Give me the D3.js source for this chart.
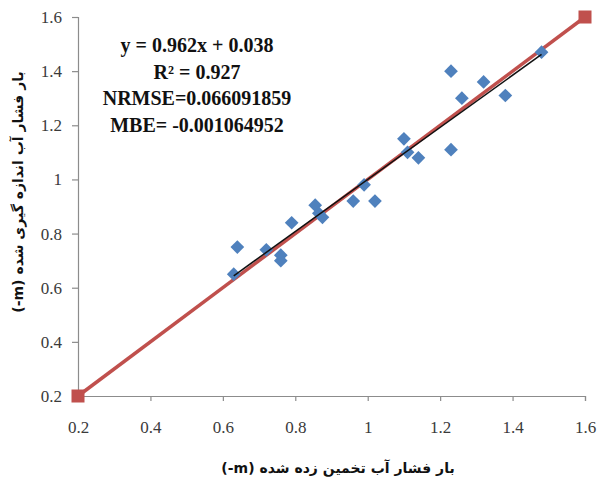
<!DOCTYPE html>
<html>
<head>
<meta charset="utf-8">
<script src="https://cdn.jsdelivr.net/npm/d3@7"></script>
<style>
  html, body { margin: 0; padding: 0; background: #ffffff; }
  svg { display: block; }
</style>
</head>
<body>
<div id="chart"></div>
<script>
// ---- data ----
const estimated = [0.63, 0.64, 0.72, 0.76, 0.76, 0.79, 0.855, 0.865, 0.875, 0.96, 0.99, 1.02, 1.10, 1.11, 1.14, 1.23, 1.23, 1.26, 1.32, 1.38, 1.48];
const measured  = [0.65, 0.75, 0.74, 0.72, 0.70, 0.84, 0.905, 0.875, 0.86, 0.92, 0.98, 0.92, 1.15, 1.10, 1.08, 1.11, 1.40, 1.30, 1.36, 1.31, 1.47];
const oneToOneX = [0.2, 1.6];
const oneToOneY = [0.2, 1.6];
const trendSlope = 0.962;
const trendIntercept = 0.038;
const xTicks = [0.2, 0.4, 0.6, 0.8, 1, 1.2, 1.4, 1.6];
const yTicks = [0.2, 0.4, 0.6, 0.8, 1, 1.2, 1.4, 1.6];
const statLines = ["y = 0.962x + 0.038", "R² = 0.927", "NRMSE=0.066091859", "MBE= -0.001064952"];
const xTitle = "بار فشار آب تخمین زده شده (m-)";
const yTitle = "بار فشار آب اندازه گیری شده (m-)";

// ---- layout ----
const W = 598, H = 484;
const mLeft = 78, mRight = 585, mTop = 17, mBottom = 396;

const svg = d3.select("#chart").append("svg").attr("width", W).attr("height", H);

const x = d3.scaleLinear().domain([0.2, 1.6]).range([mLeft, mRight]);
const y = d3.scaleLinear().domain([0.2, 1.6]).range([mBottom, mTop]);

const axisColor = "#8c8c8c";
const serif = "'Liberation Serif', 'Times New Roman', serif";

// x axis
const gx = svg.append("g").attr("transform", `translate(0,${mBottom})`)
  .call(d3.axisBottom(x).tickValues(xTicks).tickSize(5).tickPadding(20)
    .tickFormat(d => d3.format("")(d)));
gx.select(".domain").attr("stroke", axisColor).attr("stroke-width", 1.2);
gx.selectAll(".tick line").attr("stroke", axisColor).attr("stroke-width", 1.2);
gx.selectAll(".tick text").attr("font-family", serif).attr("font-size", 17).attr("fill", "#3a3a3a");

// y axis
const gy = svg.append("g").attr("transform", `translate(${mLeft},0)`)
  .call(d3.axisLeft(y).tickValues(yTicks).tickSize(6).tickPadding(10)
    .tickFormat(d => d3.format("")(d)));
gy.select(".domain").attr("stroke", axisColor).attr("stroke-width", 1.2);
gy.selectAll(".tick line").attr("stroke", axisColor).attr("stroke-width", 1.2);
gy.selectAll(".tick text").attr("font-family", serif).attr("font-size", 17).attr("fill", "#3a3a3a");

// 1:1 line
const red = "#C0504D";
svg.append("line")
  .attr("x1", x(oneToOneX[0])).attr("y1", y(oneToOneY[0]))
  .attr("x2", x(oneToOneX[1])).attr("y2", y(oneToOneY[1]))
  .attr("stroke", red).attr("stroke-width", 3.5);

// points
const blue = "#4F81BD";
const diamond = d3.symbol().type(d3.symbolDiamond2).size(120);
svg.append("g").selectAll("path").data(estimated.map((v, i) => [v, measured[i]]))
  .join("path")
  .attr("d", diamond)
  .attr("transform", d => `translate(${x(d[0])},${y(d[1])})`)
  .attr("fill", blue);

// trendline
const tMin = d3.min(estimated), tMax = d3.max(estimated);
svg.append("line")
  .attr("x1", x(tMin)).attr("y1", y(trendSlope * tMin + trendIntercept))
  .attr("x2", x(tMax)).attr("y2", y(trendSlope * tMax + trendIntercept))
  .attr("stroke", "#111").attr("stroke-width", 1.5);

// squares at ends of 1:1 line
const sq = 13;
svg.append("g").selectAll("rect").data(oneToOneX.map((v, i) => [v, oneToOneY[i]]))
  .join("rect")
  .attr("x", d => x(d[0]) - sq / 2).attr("y", d => y(d[1]) - sq / 2)
  .attr("width", sq).attr("height", sq)
  .attr("fill", red);

// stats annotation
svg.append("g").selectAll("text").data(statLines).join("text")
  .attr("x", 197).attr("y", (d, i) => 52 + i * 26.5)
  .attr("text-anchor", "middle")
  .attr("font-family", serif).attr("font-weight", "bold").attr("font-size", 20)
  .attr("fill", "#111")
  .text(d => d);

// axis titles
svg.append("text")
  .attr("x", 338).attr("y", 473)
  .attr("text-anchor", "middle").attr("direction", "rtl")
  .attr("font-family", "'DejaVu Sans', sans-serif").attr("font-weight", "bold").attr("font-size", 14)
  .attr("fill", "#111")
  .text(xTitle);

svg.append("text")
  .attr("transform", `translate(23,192) rotate(-90)`)
  .attr("text-anchor", "middle").attr("direction", "rtl")
  .attr("font-family", "'DejaVu Sans', sans-serif").attr("font-weight", "bold").attr("font-size", 14)
  .attr("fill", "#111")
  .text(yTitle);
</script>
</body>
</html>
